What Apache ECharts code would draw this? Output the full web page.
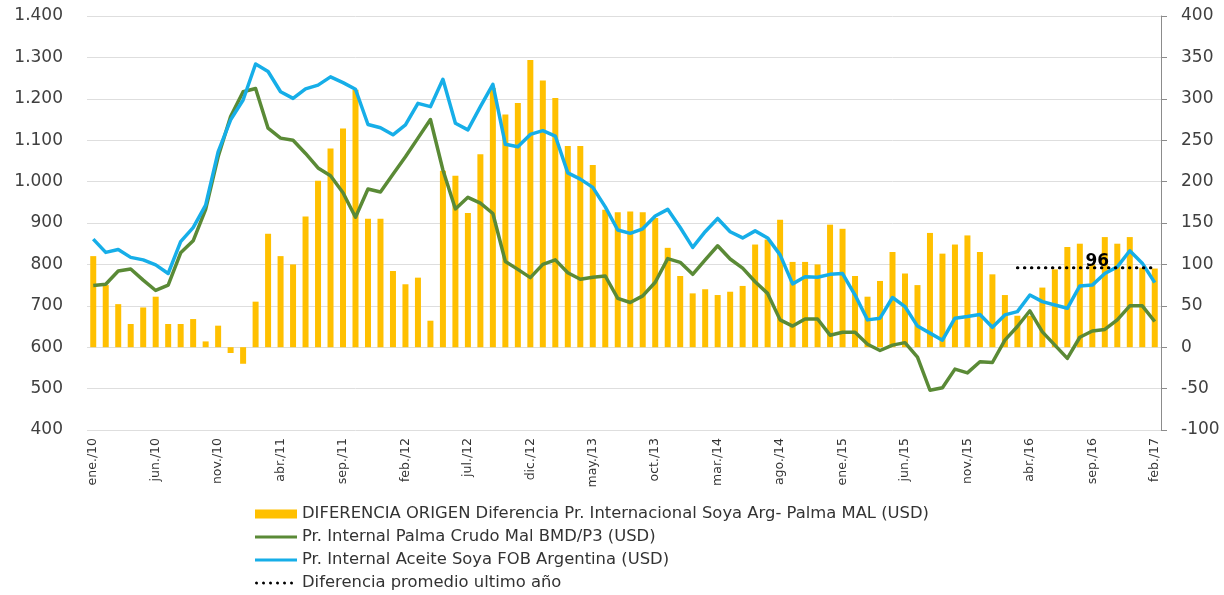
<!DOCTYPE html>
<html>
<head>
<meta charset="utf-8">
<script src="https://cdn.jsdelivr.net/npm/echarts@6/dist/echarts.min.js"></script>
<style>
  html, body { margin: 0; padding: 0; background: #fff; }
  #chart { width: 1224px; height: 595px; }
</style>
</head>
<body>
<div id="chart"></div>
<script>
// Monthly series, ene./10 .. feb./17
const MONTHS = ['ene.', 'feb.', 'mar.', 'abr.', 'may.', 'jun.', 'jul.', 'ago.', 'sep.', 'oct.', 'nov.', 'dic.'];
const categories = [];
for (let y = 10; y <= 17; y++) {
  for (let m = 0; m < 12; m++) {
    if (y === 17 && m > 1) break;
    categories.push(MONTHS[m] + '/' + y);
  }
}

// Difference soy Arg - palm MAL (USD), right axis
const diferencia = [
  110, 75, 52, 28, 48, 61, 28, 28, 34, 7,
  26, -7, -20, 55, 137, 110, 100, 158, 201, 240,
  264, 311, 155, 155, 92, 76, 84, 32, 213, 207,
  162, 233, 313, 281, 295, 347, 322, 301, 243, 243,
  220, 166, 163, 164, 163, 156, 120, 86, 65, 70,
  63, 67, 74, 124, 130, 154, 103, 103, 100, 148,
  143, 86, 61, 80, 115, 89, 75, 138, 113, 124,
  135, 115, 88, 63, 38, 38, 72, 94, 121, 125,
  100, 133, 125, 133, 96, 95
];

// Crude palm oil Mal BMD/P3 (USD), left axis
const palma = [
  749, 752, 784, 789, 762, 737, 750, 828, 857, 933,
  1060, 1157, 1217, 1225, 1129, 1105, 1100, 1068, 1033, 1014,
  973, 914, 982, 975, 1018, 1060, 1105, 1150, 1028, 934,
  962, 948, 923, 807, 788, 768, 800, 811, 780, 764,
  769, 772, 718, 708, 724, 757, 814, 805, 776, 811,
  845, 813, 791, 758, 730, 666, 651, 668, 668, 629,
  636, 636, 607, 592, 605, 611, 576, 496, 502, 547,
  538, 565, 563, 617, 650, 688, 637, 605, 573, 624,
  639, 643, 666, 700, 700, 662
];

// Soybean oil FOB Argentina (USD), left axis
const soya = [
  861, 829, 836, 817, 811, 799, 778, 855, 889, 943,
  1072, 1149, 1197, 1284, 1266, 1217, 1201, 1224, 1233, 1253,
  1239, 1223, 1138, 1130, 1113, 1137, 1189, 1181, 1247, 1141,
  1125, 1181, 1235, 1090, 1084, 1114, 1123, 1110, 1021, 1006,
  986, 939, 883, 875, 886, 917, 933, 889, 841, 879,
  911, 879, 864, 881, 864, 823, 753, 770, 769, 776,
  778, 726, 666, 670, 720, 698, 651, 634, 617, 670,
  674, 679, 648, 678, 686, 726, 710, 702, 694, 748,
  750, 778, 794, 833, 803, 756
];

// Average difference over the last twelve months
const promedioUltimoAnio = 96;
const promedioDesde = categories.length - 12;
const promedioLabelIndex = promedioDesde + 6;

const leftTicks = { min: 400, max: 1400, interval: 100 };
const rightTicks = { min: -100, max: 400, interval: 50 };

const promedio = categories.map((c, i) => (i >= promedioDesde ? promedioUltimoAnio : null));

const NAMES = {
  bar: 'DIFERENCIA ORIGEN Diferencia Pr. Internacional Soya Arg- Palma MAL (USD)',
  palma: 'Pr. Internal Palma Crudo Mal BMD/P3 (USD)',
  soya: 'Pr. Internal Aceite Soya FOB Argentina (USD)',
  prom: 'Diferencia promedio ultimo año'
};

const FONT = 'DejaVu Sans';
const GREEN = '#5A8A36';
const BLUE = '#16AEE8';
const GOLD = '#FFC000';

// Legend keys: a solid stroke and a row of dots, both 42 units wide
const ICON_LINE = 'path://M0,3 L42,3 L42,6 L0,6 Z M0,0 L0.01,0 M0,9 L0.01,9';
const ICON_DOTS = 'path://' + [0, 7, 14, 21, 28, 35].map(x =>
  `M${x + 1.5},3 a1.5,1.5 0 1,0 0.01,0 Z`).join(' ') + ' M0,0 L0.01,0 M42,9 L41.99,9';

const chart = echarts.init(document.getElementById('chart'), null, { renderer: 'canvas' });

const fmtThousands = v => String(v).replace(/\B(?=(\d{3})+(?!\d))/g, '.');

chart.setOption({
  animation: false,
  backgroundColor: '#ffffff',
  textStyle: { fontFamily: FONT },
  grid: { left: 87, right: 63, top: 16, bottom: 165, containLabel: false },
  legend: {
    orient: 'vertical',
    left: 250,
    top: 501,
    height: 100,
    itemWidth: 42,
    itemHeight: 9,
    itemGap: 7,
    textStyle: { fontFamily: FONT, fontSize: 16.4, color: '#333' },
    data: [
      { name: NAMES.bar, icon: 'rect' },
      { name: NAMES.palma, icon: ICON_LINE },
      { name: NAMES.soya, icon: ICON_LINE },
      { name: NAMES.prom, icon: ICON_DOTS }
    ]
  },
  xAxis: {
    type: 'category',
    data: categories,
    boundaryGap: true,
    axisLine: { show: false },
    axisTick: { show: false },
    axisLabel: {
      interval: 4,
      rotate: 90,
      margin: 8,
      fontFamily: FONT,
      fontSize: 12.5,
      color: '#333'
    }
  },
  yAxis: [
    {
      type: 'value',
      min: leftTicks.min,
      max: leftTicks.max,
      interval: leftTicks.interval,
      position: 'left',
      axisLine: { show: false },
      axisTick: { show: false },
      axisLabel: {
        margin: 24,
        fontFamily: FONT,
        fontSize: 17,
        color: '#404040',
        formatter: fmtThousands
      },
      splitLine: { show: true, lineStyle: { color: '#dedede', width: 1 } }
    },
    {
      type: 'value',
      min: rightTicks.min,
      max: rightTicks.max,
      interval: rightTicks.interval,
      position: 'right',
      axisLine: { show: true, lineStyle: { color: '#8c8c8c', width: 1 } },
      axisTick: { show: true, inside: false, length: 6, lineStyle: { color: '#8c8c8c' } },
      axisLabel: {
        margin: 20,
        fontFamily: FONT,
        fontSize: 17,
        color: '#404040'
      },
      splitLine: { show: false }
    }
  ],
  series: [
    {
      name: NAMES.bar,
      type: 'bar',
      yAxisIndex: 1,
      data: diferencia,
      barWidth: 6,
      itemStyle: { color: GOLD },
      z: 1
    },
    {
      name: NAMES.palma,
      type: 'line',
      yAxisIndex: 0,
      data: palma,
      symbol: 'none',
      lineStyle: { color: GREEN, width: 3.5, join: 'round' },
      itemStyle: { color: GREEN },
      z: 2
    },
    {
      name: NAMES.soya,
      type: 'line',
      yAxisIndex: 0,
      data: soya,
      symbol: 'none',
      lineStyle: { color: BLUE, width: 3.5, join: 'round' },
      itemStyle: { color: BLUE },
      z: 3
    },
    {
      name: NAMES.prom,
      type: 'line',
      yAxisIndex: 1,
      data: promedio.map((v, i) => i === promedioLabelIndex
        ? {
            value: v,
            label: {
              show: true,
              position: 'top',
              distance: 0,
              offset: [5, 2],
              formatter: String(promedioUltimoAnio),
              fontFamily: FONT,
              fontSize: 17,
              fontWeight: 'bold',
              color: '#000'
            }
          }
        : v),
      symbol: 'circle',
      symbolSize: 0,
      showSymbol: true,
      connectNulls: false,
      lineStyle: { color: '#000', width: 3, type: [0.5, 6.5], cap: 'round' },
      itemStyle: { color: '#000' },
      z: 4
    }
  ]
});
</script>
</body>
</html>
